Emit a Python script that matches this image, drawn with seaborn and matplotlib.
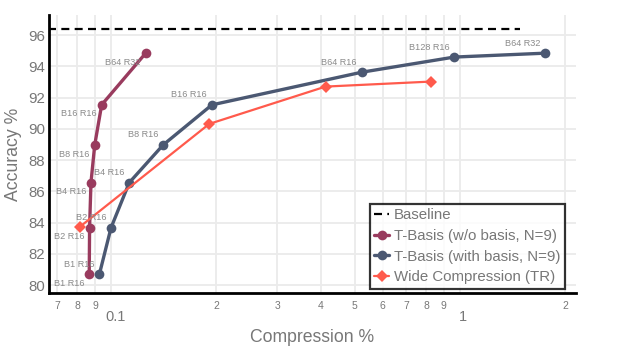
import matplotlib
matplotlib.use("Agg")
import matplotlib.pyplot as plt
import matplotlib.transforms as mtransforms
import seaborn as sns
import pandas as pd
from matplotlib.ticker import FixedLocator, FixedFormatter

# ---- data ----
wo_x = [0.0866, 0.0868, 0.0876, 0.0898, 0.0940, 0.1257]
wo_y = [80.69, 83.67, 86.56, 88.97, 91.54, 94.85]
wo_labels = ["B1 R16", "B2 R16", "B4 R16", "B8 R16", "B16 R16", "B64 R32"]

wb_x = [0.0926, 0.1000, 0.1128, 0.141, 0.1946, 0.523, 0.963, 1.755]
wb_y = [80.69, 83.67, 86.56, 88.97, 91.54, 93.63, 94.60, 94.85]
wb_labels = ["B1 R16", "B2 R16", "B4 R16", "B8 R16", "B16 R16",
             "B64 R16", "B128 R16", "B64 R32"]

tr_x = [0.0815, 0.1912, 0.412, 0.824]
tr_y = [83.74, 90.32, 92.71, 93.03]

base_x = [0.066, 1.49]
base_y = [96.4, 96.4]

minor_ticks = [0.07, 0.08, 0.09, 0.2, 0.3, 0.4, 0.5, 0.6, 0.7, 0.8, 0.9, 2]
minor_labels = ["7", "8", "9", "2", "3", "4", "5", "6", "7", "8", "9", "2"]
major_ticks = [0.1, 1]
major_labels = ["0.1", "1"]
y_ticks = [80, 82, 84, 86, 88, 90, 92, 94, 96]

# ---- style ----
sns.set_theme(style="white")
plt.rcParams["font.family"] = ["Liberation Sans", "DejaVu Sans"]

C_WO = "#993b5e"
C_WB = "#4b5872"
C_TR = "#ff5a4c"
TXT = "#777777"

fig = plt.figure(figsize=(6.28, 3.55), dpi=100)
ax = fig.add_axes([0.078, 0.175, 0.839, 0.783])

base_df = pd.DataFrame({"x": base_x, "y": base_y})
wo_df = pd.DataFrame({"x": wo_x, "y": wo_y})
wb_df = pd.DataFrame({"x": wb_x, "y": wb_y})
tr_df = pd.DataFrame({"x": tr_x, "y": tr_y})

sns.lineplot(data=base_df, x="x", y="y", ax=ax, color="black", lw=1.6,
             dashes=False, label="Baseline", estimator=None, sort=False)
ax.lines[-1].set_dashes((3.6, 2.4))
sns.lineplot(data=wo_df, x="x", y="y", ax=ax, color=C_WO, lw=2.4, marker="o",
             markersize=7, markeredgewidth=0, label="T-Basis (w/o basis, N=9)",
             estimator=None, sort=False)
sns.lineplot(data=wb_df, x="x", y="y", ax=ax, color=C_WB, lw=2.4, marker="o",
             markersize=7, markeredgewidth=0, label="T-Basis (with basis, N=9)",
             estimator=None, sort=False)
sns.lineplot(data=tr_df, x="x", y="y", ax=ax, color=C_TR, lw=1.6, marker="D",
             markersize=6, markeredgewidth=0, label="Wide Compression (TR)",
             estimator=None, sort=False)

for x, y, t in zip(wo_x, wo_y, wo_labels):
    ax.annotate(t, (x, y), xytext=(-3.6, -6.5), textcoords="offset points",
                ha="right", va="center", fontsize=6.6, color="#8a8a8a")
for x, y, t in zip(wb_x, wb_y, wb_labels):
    ax.annotate(t, (x, y), xytext=(-3.6, 7.2), textcoords="offset points",
                ha="right", va="center", fontsize=6.6, color="#8a8a8a")

ax.set_xscale("log")
ax.set_xlim(0.0664, 2.15)
ax.set_ylim(79.5, 97.3)

ax.xaxis.set_major_locator(FixedLocator(major_ticks))
ax.xaxis.set_major_formatter(FixedFormatter(major_labels))
ax.xaxis.set_minor_locator(FixedLocator(minor_ticks))
ax.xaxis.set_minor_formatter(FixedFormatter(minor_labels))
ax.set_yticks(y_ticks)

ax.tick_params(axis="x", which="minor", length=0, pad=6, labelsize=7.5, labelcolor=TXT)
ax.tick_params(axis="x", which="major", length=0, pad=12, labelsize=10.5, labelcolor=TXT)
ax.tick_params(axis="y", length=0, pad=3, labelsize=10.8, labelcolor=TXT)

# nudge the decade labels slightly right, as in the reference
for lab, dx in zip(ax.get_xticklabels(which="major"), [5, 3]):
    lab.set_transform(lab.get_transform() +
                      mtransforms.ScaledTranslation(dx / 100, 0, fig.dpi_scale_trans))

ax.grid(True, which="both", axis="x", color="#ebebeb", lw=1.3)
ax.grid(True, which="major", axis="y", color="#ebebeb", lw=1.3)
ax.set_axisbelow(True)

for s in ["top", "right"]:
    ax.spines[s].set_visible(False)
for s in ["left", "bottom"]:
    ax.spines[s].set_color("black")
    ax.spines[s].set_linewidth(2.0)

ax.set_xlabel("Compression %", fontsize=12.7, color=TXT, labelpad=4)
ax.set_ylabel("Accuracy %", fontsize=12.7, color=TXT, labelpad=4)

leg = ax.legend(loc="lower right", bbox_to_anchor=(0.979, 0.014), fontsize=10.8,
                frameon=True, fancybox=False, edgecolor="black",
                handlelength=1.0, handletextpad=0.3, borderpad=0.3,
                labelspacing=0.45, borderaxespad=0)
leg.get_frame().set_linewidth(1.6)
for t in leg.get_texts():
    t.set_color(TXT)

fig.savefig("out.png", dpi=100)
